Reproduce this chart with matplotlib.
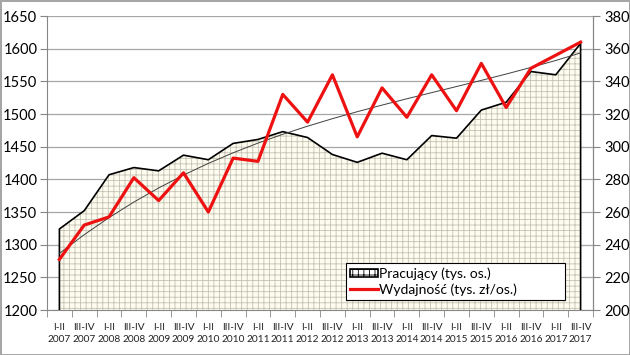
import numpy as np
import matplotlib
matplotlib.use("Agg")
import matplotlib.pyplot as plt
from matplotlib.patches import Patch
from matplotlib.lines import Line2D

halves = ["I-II", "III-IV"] * 11
years = [str(y) for y in range(2007, 2018) for _ in range(2)]
tick_labels = [f"{h}\n{y}" for h, y in zip(halves, years)]

pracujacy = [1324, 1352, 1407, 1418, 1413, 1437, 1430, 1455, 1461, 1473, 1464,
             1438, 1426, 1440, 1430, 1467, 1463, 1506, 1518, 1565, 1560, 1608]
wydajnosc = [231, 252, 257, 281, 267, 284, 260, 293, 291, 332, 315,
             344, 306, 336, 318, 344, 322, 351, 324, 348, 356, 364]

plt.rcParams['font.family'] = ['Lato', 'DejaVu Sans']
plt.rcParams['hatch.linewidth'] = 0.6

fig = plt.figure(figsize=(6.3, 3.55), dpi=100)
fig.patch.set_facecolor('white')
fig.patch.set_edgecolor('#a6a6a6')
fig.patch.set_linewidth(2)

ax = fig.add_axes([47/630, 1-310/355, (593-47)/630, (310-16)/355])
x = np.arange(len(pracujacy))

ax.fill_between(x, pracujacy, 1200, facecolor='#fdfcee', edgecolor='#c4c2b4',
                hatch='+++', linewidth=0, zorder=1)
ax.plot(np.concatenate([[x[0]], x, [x[-1]]]), [1200] + pracujacy + [1200],
        color='black', lw=1.2, zorder=3)

ax.set_xlim(-0.5, len(x) - 0.5)
ax.set_ylim(1200, 1650)
ax.set_yticks(np.arange(1200, 1651, 50))
ax.yaxis.grid(True, color='#a6a6a6', lw=0.9)
ax.set_axisbelow(True)
ax.set_xticks(x)
ax.set_xticklabels(tick_labels, fontsize=7.3, linespacing=1.45, color='#222222')
ax.set_xticks(np.arange(-0.5, len(x), 1), minor=True)
ax.tick_params(axis='x', which='major', length=0, pad=9)
ax.tick_params(axis='x', which='minor', length=5, color='#868686', direction='out')
ax.tick_params(axis='y', length=5, color='#868686', labelsize=10.5, pad=2)
for s in ['top']:
    ax.spines[s].set_visible(False)
for s in ['left', 'bottom', 'right']:
    ax.spines[s].set_color('#868686')

ax2 = ax.twinx()
ax2.set_ylim(200, 380)
ax2.set_yticks(np.arange(200, 381, 20))
ax2.tick_params(axis='y', length=5, color='#868686', labelsize=10.5, pad=3)
for s in ['top', 'left', 'bottom']:
    ax2.spines[s].set_visible(False)
ax2.spines['right'].set_color('#868686')

coef = np.polyfit(x, wydajnosc, 3)
trend = np.polyval(coef, x)
ax2.plot(x, trend, color='#404040', lw=0.7, zorder=4)
ax2.plot(x, wydajnosc, color='#ee1111', lw=2.3, zorder=5)

handles = [Patch(facecolor='white', edgecolor='black', hatch='+++', lw=1.2),
           Line2D([0], [0], color='#ee1111', lw=2.3)]
leg = ax2.legend(handles, ['Pracujący (tys. os.)', 'Wydajność (tys. zł/os.)'],
                 loc='lower left', bbox_to_anchor=(0.547, 0.034, 0.402, 0.13),
                 mode='expand', fontsize=10, frameon=True, fancybox=False,
                 framealpha=1, edgecolor='black', borderpad=0.3,
                 handlelength=2.0, handleheight=0.6, handletextpad=0.1,
                 labelspacing=0.25, borderaxespad=0)
leg.get_frame().set_linewidth(0.8)

fig.savefig('out.png', dpi=100, facecolor=fig.get_facecolor(),
            edgecolor=fig.get_edgecolor())
